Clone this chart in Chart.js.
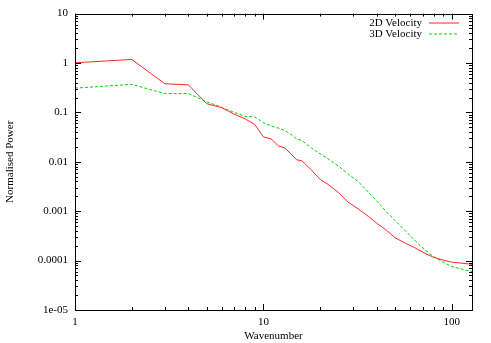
<!DOCTYPE html>
<html>
<head>
<meta charset="utf-8">
<script src="https://cdn.jsdelivr.net/npm/chart.js@4/dist/chart.umd.min.js"></script>
<style>
  html, body { margin: 0; padding: 0; background: #fff; }
</style>
</head>
<body>
<canvas id="myChart" width="491" height="343"></canvas>
<script>
const wavenumbers = [1, 2, 3, 4, 5, 6, 7, 8, 9, 10, 11, 12, 13, 14, 15, 16, 18, 20, 22, 25, 28, 32, 36, 40, 45, 50, 56, 64, 72, 80, 90, 100, 112, 128]
const power2D = [1.01, 1.18, 0.38, 0.36, 0.15, 0.125, 0.092, 0.074, 0.057, 0.032, 0.029, 0.021, 0.019, 0.0145, 0.011, 0.0105, 0.0068, 0.0044, 0.0035, 0.0024, 0.00155, 0.0011, 0.00079, 0.00057, 0.00041, 0.00029, 0.00023, 0.00018, 0.00014, 0.000117, 0.000102, 0.000093, 0.000089, 0.000084]
const power3D = [0.31, 0.37, 0.24, 0.24, 0.165, 0.126, 0.10, 0.083, 0.081, 0.062, 0.053, 0.048, 0.043, 0.036, 0.029, 0.027, 0.019, 0.0145, 0.0115, 0.0082, 0.0058, 0.0039, 0.00245, 0.0016, 0.00097, 0.00065, 0.00042, 0.00025, 0.000166, 0.00012, 0.000093, 0.000076, 0.000068, 0.00006]

const seriesNames = ['2D Velocity', '3D Velocity']
const seriesColors = ['rgb(255, 40, 40)', 'rgb(0, 210, 0)']
const xTickValues = [1, 10, 100]
const xTickLabels = ['1', '10', '100']
const yTickValues = [10, 1, 0.1, 0.01, 0.001, 0.0001, 0.00001]
const yTickLabels = ['10', '1', '0.1', '0.01', '0.001', '0.0001', '1e-05']

const serif = 'Liberation Serif'

// frame, inward ticks (gnuplot style) and the legend
const gnuplotLook = {
    id: 'gnuplotLook',
    afterDatasetsDraw(chart){
        const ctx = chart.ctx
        const a = chart.chartArea
        const xs = chart.scales.x
        const ys = chart.scales.y
        ctx.save()
        ctx.strokeStyle = '#000'
        ctx.lineWidth = 1
        ctx.beginPath()
        const tick = (v, len, horiz) => {
            if (horiz){
                const p = Math.round(xs.getPixelForValue(v)) + 0.5
                ctx.moveTo(p, a.bottom); ctx.lineTo(p, a.bottom - len)
                ctx.moveTo(p, a.top); ctx.lineTo(p, a.top + len)
            } else {
                const p = Math.round(ys.getPixelForValue(v)) + 0.5
                ctx.moveTo(a.left, p); ctx.lineTo(a.left + len, p)
                ctx.moveTo(a.right, p); ctx.lineTo(a.right - len, p)
            }
        }
        for (let e = 0; e <= 2; e++){
            for (let m = 1; m <= 9; m++){
                const v = m * Math.pow(10, e)
                if (v > xs.max) break
                tick(v, m === 1 ? 6 : 3, true)
            }
        }
        for (let e = -5; e <= 1; e++){
            for (let m = 1; m <= 9; m++){
                const v = m * Math.pow(10, e)
                if (v > ys.max * 1.0001) break
                tick(v, m === 1 ? 6 : 3, false)
            }
        }
        ctx.stroke()
        ctx.strokeRect(Math.round(a.left) + 0.5, Math.round(a.top) + 0.5, Math.round(a.right - a.left), Math.round(a.bottom - a.top))

        // legend: text on the left, line sample on the right
        ctx.font = '11px "' + serif + '"'
        ctx.textAlign = 'right'
        ctx.textBaseline = 'middle'
        seriesNames.forEach((name, i) => {
            const y = 23 + i * 11
            ctx.fillStyle = '#000'
            ctx.fillText(name, 422, y)
            ctx.beginPath()
            ctx.strokeStyle = seriesColors[i]
            ctx.setLineDash(i === 0 ? [] : [3, 2])
            ctx.moveTo(429, y)
            ctx.lineTo(459, y)
            ctx.stroke()
        })
        ctx.restore()
    }
}

const info = {
    datasets: [{
        label: seriesNames[0],
        data: wavenumbers.map((k, i) => ({x: k, y: power2D[i]})),
        borderColor: seriesColors[0],
        borderWidth: 1,
        pointRadius: 0,
        tension: 0
    }, {
        label: seriesNames[1],
        data: wavenumbers.map((k, i) => ({x: k, y: power3D[i]})),
        borderColor: seriesColors[1],
        borderWidth: 1,
        borderDash: [3, 2],
        pointRadius: 0,
        tension: 0
    }]
}

const options = {
    responsive: false,
    animation: false,
    layout: { padding: { top: 13, right: 19, left: 0, bottom: 0 } },
    scales: {
        x: {
            type: 'logarithmic',
            min: 1,
            max: 128,
            afterBuildTicks: s => { s.ticks = xTickValues.map(v => ({value: v})) },
            afterFit: s => { s.height = 33 },
            ticks: {
                autoSkip: false,
                maxRotation: 0,
                padding: 6,
                color: '#000',
                font: { family: serif, size: 11 },
                callback: v => xTickLabels[xTickValues.indexOf(v)] ?? ''
            },
            grid: { display: false, drawTicks: false },
            border: { display: false },
            title: {
                display: true,
                text: 'Wavenumber',
                color: '#000',
                font: { family: serif, size: 11 },
                padding: { top: 0, bottom: 0 }
            }
        },
        y: {
            type: 'logarithmic',
            min: 0.00001,
            max: 10,
            afterBuildTicks: s => { s.ticks = yTickValues.map(v => ({value: v})) },
            afterFit: s => { s.width = 75 },
            ticks: {
                autoSkip: false,
                padding: 7,
                color: '#000',
                font: { family: serif, size: 11 },
                callback: v => {
                    const i = yTickValues.findIndex(t => Math.abs(t - v) / t < 1e-6)
                    return i >= 0 ? yTickLabels[i] : ''
                }
            },
            grid: { display: false, drawTicks: false },
            border: { display: false },
            title: {
                display: true,
                text: 'Normalised Power',
                color: '#000',
                font: { family: serif, size: 11 },
                padding: { top: 4, bottom: 0 }
            }
        }
    },
    plugins: {
        legend: { display: false },
        tooltip: { enabled: false }
    }
}

const myChart = new Chart(document.getElementById('myChart'), {
    type: 'line',
    data: info,
    options,
    plugins: [gnuplotLook]
})
</script>
</body>
</html>
